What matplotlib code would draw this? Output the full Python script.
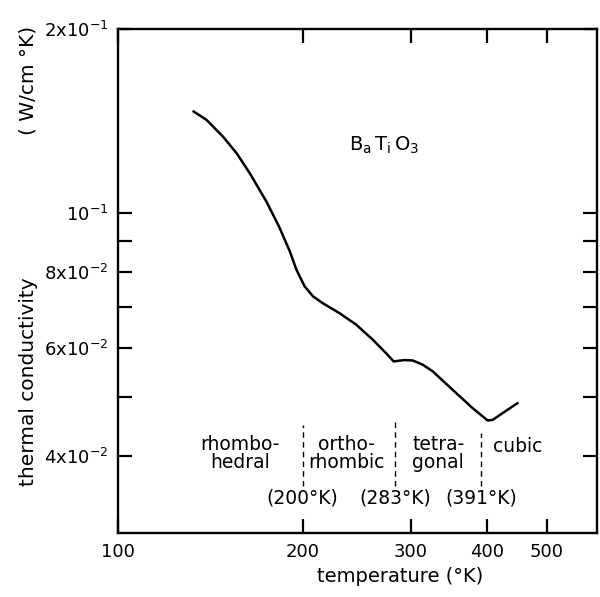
import matplotlib
matplotlib.use("Agg")
import matplotlib.pyplot as plt
import numpy as np

# curve (temperature in K, conductivity in W/cm K)
temperature = [132.3, 139.4, 148.3, 156.1, 164.0, 174.6, 183.0, 190.5, 195.4,
               201.5, 207.9, 215.8, 229.7, 244.5, 260.2, 273.6, 281.5, 293.1,
               302.4, 314.0, 326.0, 351.3, 378.5, 400.6, 408.2, 423.8, 449.7]
conductivity = [0.1469, 0.1420, 0.1333, 0.1252, 0.1161, 0.1043, 0.0950, 0.0866,
                0.0807, 0.0758, 0.0730, 0.0711, 0.0685, 0.0656, 0.0620, 0.0589,
                0.0571, 0.0574, 0.0573, 0.0564, 0.0550, 0.0513, 0.0479, 0.0457,
                0.0458, 0.0470, 0.0489]

# phase transitions
transition_T = [200, 283, 391]
transition_top = [0.0450, 0.0458, 0.0436]
transition_bottom = 0.0357
transition_labels = ["(200°K)", "(283°K)", "(391°K)"]

# phase names: (text, x, y, ha)
phase_names = [("rhombo-\nhedral", 158, 0.0404, "center"),
               ("ortho-\nrhombic", 236, 0.0404, "center"),
               ("tetra-\ngonal", 302, 0.0404, "left"),
               ("cubic", 408, 0.0415, "left")]

x_ticks = [100, 200, 300, 400, 500]
x_ticklabels = ["100", "200", "300", "400", "500"]
y_ticks = [0.04, 0.05, 0.06, 0.07, 0.08, 0.09, 0.1, 0.2]
y_ticklabels = ["4x10$^{-2}$", "", "6x10$^{-2}$", "", "8x10$^{-2}$", "",
                "10$^{-1}$", "2x10$^{-1}$"]

plt.rcParams["font.family"] = "DejaVu Sans"
plt.rcParams["mathtext.default"] = "regular"

fig = plt.figure(figsize=(6.0, 5.97), dpi=100)
ax = fig.add_axes([0.1967, 0.1072, 0.7983, 0.8442])

ax.plot(temperature, conductivity, color="black", lw=1.8,
        solid_capstyle="butt", solid_joinstyle="round")

for t, top in zip(transition_T, transition_top):
    ax.plot([t, t], [transition_bottom, top], color="black", lw=1.0,
            dashes=(4, 3))
for t, lab in zip(transition_T, transition_labels):
    ax.text(t, 0.0341, lab, ha="center", va="center", fontsize=13.5)

for txt, x, y, ha in phase_names:
    ax.text(x, y, txt, ha=ha, va="center", fontsize=13.5, linespacing=0.95)

ax.text(0.483, 0.77, r"$B_a\,T_i\,O_3$", transform=ax.transAxes,
        fontsize=14, ha="left", va="center")

ax.set_xscale("log")
ax.set_yscale("log")
ax.set_xlim(100, 604)
ax.set_ylim(0.0299, 0.2)

ax.xaxis.set_minor_locator(matplotlib.ticker.NullLocator())
ax.yaxis.set_minor_locator(matplotlib.ticker.NullLocator())
ax.set_xticks(x_ticks, x_ticklabels)
ax.set_yticks(y_ticks, y_ticklabels)
ax.tick_params(which="both", direction="in", length=10, width=1.6,
               top=True, right=True, labelsize=13, pad=7)

for s in ax.spines.values():
    s.set_linewidth(1.7)

fig.text(400 / 600, 1 - 577 / 597, "temperature (°K)", fontsize=14,
         ha="center", va="center")
fig.text(0.047, 1 - 382 / 597, "thermal conductivity", rotation=90,
         fontsize=14.5, ha="center", va="center")
fig.text(0.047, 1 - 80 / 597, "( W/cm °K)", rotation=90, fontsize=14.5,
         ha="center", va="center")

fig.savefig("out.png", dpi=100)
